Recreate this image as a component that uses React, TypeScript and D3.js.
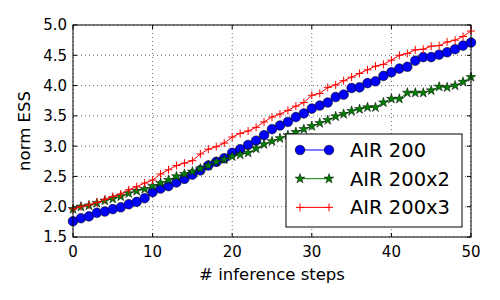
import { useEffect, useRef } from "react";
import * as d3 from "d3";

const W = 500;
const H = 300;
const MARGIN = { top: 25, right: 29, bottom: 63, left: 73 };

const steps = d3.range(0, 51);

const air200 = [
  1.76, 1.81, 1.84, 1.9, 1.92, 1.96, 1.99, 2.04, 2.08, 2.14,
  2.24, 2.3, 2.34, 2.4, 2.46, 2.53, 2.6, 2.68, 2.74, 2.8,
  2.89, 2.95, 3.02, 3.09, 3.18, 3.28, 3.34, 3.4, 3.48, 3.54,
  3.62, 3.67, 3.72, 3.81, 3.85, 3.96, 3.97, 4.04, 4.07, 4.16,
  4.22, 4.28, 4.31, 4.41, 4.47, 4.47, 4.51, 4.55, 4.6, 4.66,
  4.71,
];

const air200x2 = [
  1.96, 2.0, 2.02, 2.06, 2.1, 2.13, 2.17, 2.22, 2.26, 2.29,
  2.34, 2.39, 2.44, 2.5, 2.54, 2.58, 2.63, 2.68, 2.74, 2.78,
  2.83, 2.86, 2.89, 2.96, 3.03, 3.08, 3.13, 3.18, 3.23, 3.28,
  3.33, 3.38, 3.43, 3.49, 3.53, 3.58, 3.61, 3.64, 3.64, 3.72,
  3.78, 3.78, 3.88, 3.88, 3.88, 3.92, 3.98, 3.97, 4.0, 4.06,
  4.14,
];

const air200x3 = [
  1.96, 2.0, 2.03, 2.07, 2.12, 2.17, 2.21, 2.28, 2.33, 2.39,
  2.44, 2.54, 2.61, 2.68, 2.72, 2.76, 2.87, 2.95, 2.99, 3.05,
  3.15, 3.21, 3.25, 3.31, 3.4, 3.48, 3.53, 3.59, 3.66, 3.72,
  3.84, 3.87, 3.97, 4.01, 4.08, 4.14, 4.2, 4.26, 4.32, 4.35,
  4.42, 4.5, 4.53, 4.59, 4.6, 4.65, 4.66, 4.72, 4.75, 4.81,
  4.9,
];

const xTicks = [0, 10, 20, 30, 40, 50];
const yTicks = [1.5, 2.0, 2.5, 3.0, 3.5, 4.0, 4.5, 5.0];

const seriesNames = ["AIR 200", "AIR 200x2", "AIR 200x3"];
const seriesColors = ["#0000ff", "#007f00", "#ff0000"];
const FONT = "DejaVu Sans, sans-serif";

export default function App() {
  const gRef = useRef<SVGGElement>(null);

  useEffect(() => {
    document.body.style.margin = "0";
    if (!gRef.current) return;
    const g = d3.select(gRef.current);
    g.selectAll("*").remove();

    const innerWidth = W - MARGIN.left - MARGIN.right;
    const innerHeight = H - MARGIN.top - MARGIN.bottom;

    const x = d3.scaleLinear().domain([0, 50]).range([0, innerWidth]);
    const y = d3.scaleLinear().domain([1.5, 5.0]).range([innerHeight, 0]);

    // grid
    g.append("g")
      .selectAll("line")
      .data(xTicks)
      .join("line")
      .attr("x1", (d) => x(d))
      .attr("x2", (d) => x(d))
      .attr("y1", 0)
      .attr("y2", innerHeight)
      .attr("stroke", "#000")
      .attr("stroke-width", 0.6)
      .attr("stroke-dasharray", "1,3");
    g.append("g")
      .selectAll("line")
      .data(yTicks)
      .join("line")
      .attr("x1", 0)
      .attr("x2", innerWidth)
      .attr("y1", (d) => y(d))
      .attr("y2", (d) => y(d))
      .attr("stroke", "#000")
      .attr("stroke-width", 0.6)
      .attr("stroke-dasharray", "1,3");

    // inward ticks on all four sides
    const tk = 4;
    const ticksG = g.append("g").attr("stroke", "#000").attr("stroke-width", 1);
    xTicks.forEach((t) => {
      ticksG.append("line").attr("x1", x(t)).attr("x2", x(t)).attr("y1", innerHeight).attr("y2", innerHeight - tk);
      ticksG.append("line").attr("x1", x(t)).attr("x2", x(t)).attr("y1", 0).attr("y2", tk);
    });
    yTicks.forEach((t) => {
      ticksG.append("line").attr("x1", 0).attr("x2", tk).attr("y1", y(t)).attr("y2", y(t));
      ticksG.append("line").attr("x1", innerWidth).attr("x2", innerWidth - tk).attr("y1", y(t)).attr("y2", y(t));
    });

    // tick labels
    g.append("g")
      .selectAll("text")
      .data(xTicks)
      .join("text")
      .attr("x", (d) => x(d))
      .attr("y", innerHeight + 20)
      .attr("text-anchor", "middle")
      .attr("font-family", FONT)
      .attr("font-size", 15)
      .text((d) => String(d));
    g.append("g")
      .selectAll("text")
      .data(yTicks)
      .join("text")
      .attr("x", -6)
      .attr("y", (d) => y(d))
      .attr("dy", "0.36em")
      .attr("text-anchor", "end")
      .attr("font-family", FONT)
      .attr("font-size", 15)
      .text((d) => d.toFixed(1));

    // axis labels
    g.append("text")
      .attr("x", innerWidth / 2)
      .attr("y", innerHeight + 43)
      .attr("text-anchor", "middle")
      .attr("font-family", FONT)
      .attr("font-size", 16.5)
      .text("# inference steps");
    g.append("text")
      .attr("transform", "rotate(-90)")
      .attr("x", -innerHeight / 2)
      .attr("y", -43)
      .attr("text-anchor", "middle")
      .attr("font-family", FONT)
      .attr("font-size", 16.5)
      .text("norm ESS");

    const series = [air200, air200x2, air200x3];
    const plot = g.append("g");

    const star = d3.symbol().type(d3.symbolStar).size(30);
    const circlePath = d3.symbol().type(d3.symbolCircle).size(72);
    const plus = "M-4,0H4M0,-4V4";

    const drawMarker = (
      sel: d3.Selection<SVGGElement, unknown, null, undefined>,
      i: number,
      px: number,
      py: number
    ) => {
      if (i === 0) {
        sel.append("path")
          .attr("d", circlePath()!)
          .attr("transform", `translate(${px},${py})`)
          .attr("fill", seriesColors[0])
          .attr("stroke", "#000")
          .attr("stroke-width", 0.6);
      } else if (i === 1) {
        sel.append("path")
          .attr("d", star()!)
          .attr("transform", `translate(${px},${py})`)
          .attr("fill", seriesColors[1])
          .attr("stroke", "#000")
          .attr("stroke-width", 0.5);
      } else {
        sel.append("path")
          .attr("d", plus)
          .attr("transform", `translate(${px},${py})`)
          .attr("fill", "none")
          .attr("stroke", seriesColors[2])
          .attr("stroke-width", 1);
      }
    };

    series.forEach((vals, i) => {
      const line = d3
        .line<number>()
        .x((_, j) => x(steps[j]))
        .y((d) => y(d));
      const sg = plot.append("g");
      sg.append("path")
        .attr("d", line(vals)!)
        .attr("fill", "none")
        .attr("stroke", seriesColors[i])
        .attr("stroke-width", 1);
      vals.forEach((v, j) => drawMarker(sg, i, x(steps[j]), y(v)));
    });

    // frame
    g.append("rect")
      .attr("width", innerWidth)
      .attr("height", innerHeight)
      .attr("fill", "none")
      .attr("stroke", "#000")
      .attr("stroke-width", 1);

    // legend
    const lx = 286 - MARGIN.left;
    const ly = 134 - MARGIN.top;
    const legend = g.append("g").attr("transform", `translate(${lx},${ly})`);
    legend.append("rect")
      .attr("width", 176)
      .attr("height", 93)
      .attr("fill", "#fff")
      .attr("stroke", "#000")
      .attr("stroke-width", 1);
    seriesNames.forEach((name, i) => {
      const cy = 16 + i * 28.7;
      const row = legend.append("g");
      row.append("line")
        .attr("x1", 14)
        .attr("x2", 43)
        .attr("y1", cy)
        .attr("y2", cy)
        .attr("stroke", seriesColors[i])
        .attr("stroke-width", 1);
      drawMarker(row, i, 14, cy);
      drawMarker(row, i, 43, cy);
      row.append("text")
        .attr("x", 64)
        .attr("y", cy)
        .attr("dy", "0.36em")
        .attr("font-family", FONT)
        .attr("font-size", 19.5)
        .text(name);
    });
  }, []);

  return (
    <svg
      width={W}
      height={H}
      style={{ display: "block", position: "absolute", left: 0, top: 0, background: "#fff" }}
    >
      <g ref={gRef} transform={`translate(${MARGIN.left},${MARGIN.top})`} />
    </svg>
  );
}
